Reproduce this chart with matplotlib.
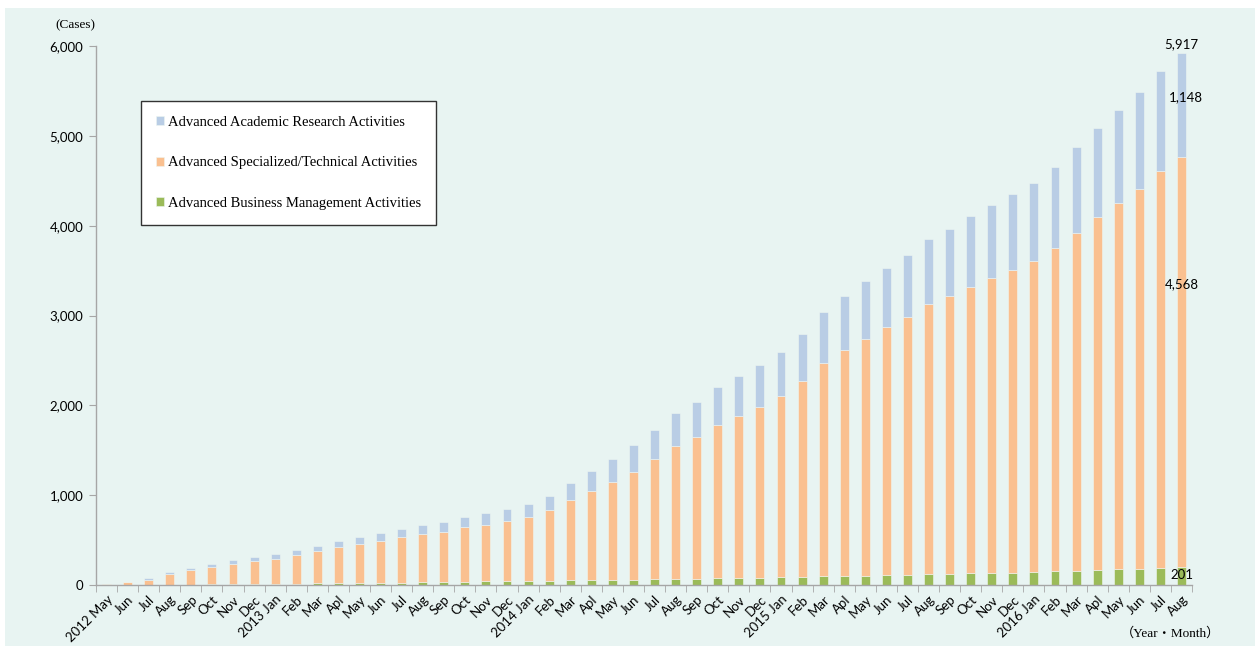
import matplotlib

matplotlib.use("Agg")
import matplotlib.pyplot as plt
from matplotlib.patches import Rectangle
from matplotlib.ticker import FuncFormatter, MultipleLocator
import numpy as np

BG = "#e8f4f2"
BLUE = "#b9cde5"
ORANGE = "#fac090"
GREEN = "#9bbb59"
AXIS = "#a6a6a6"

MONTHS = [
    "2012 May", "Jun", "Jul", "Aug", "Sep", "Oct", "Nov", "Dec",
    "2013 Jan", "Feb", "Mar", "Apl", "May", "Jun", "Jul", "Aug", "Sep", "Oct", "Nov", "Dec",
    "2014 Jan", "Feb", "Mar", "Apl", "May", "Jun", "Jul", "Aug", "Sep", "Oct", "Nov", "Dec",
    "2015 Jan", "Feb", "Mar", "Apl", "May", "Jun", "Jul", "Aug", "Sep", "Oct", "Nov", "Dec",
    "2016 Jan", "Feb", "Mar", "Apl", "May", "Jun", "Jul", "Aug",
]

# Advanced Business Management Activities
business = [
    0, 1, 2, 3, 4, 6, 8, 9,
    11, 13, 17, 21, 22, 24, 26, 31, 35, 37, 39, 45,
    47, 49, 54, 58, 60, 61, 64, 68, 71, 76, 79, 81,
    84, 90, 95, 100, 103, 109, 114, 120, 123, 129, 133, 137,
    145, 154, 158, 166, 174, 180, 189, 201,
]
# Advanced Specialized/Technical Activities
specialized = [
    6, 29, 57, 123, 159, 194, 229, 254,
    279, 317, 358, 399, 438, 470, 505, 537, 559, 605, 629, 664,
    707, 790, 889, 993, 1087, 1201, 1339, 1480, 1577, 1706, 1803, 1905,
    2021, 2178, 2377, 2520, 2636, 2764, 2870, 3009, 3095, 3189, 3285, 3371,
    3463, 3599, 3762, 3932, 4080, 4230, 4421, 4568,
]
# Advanced Academic Research Activities
academic = [
    2, 3, 19, 19, 23, 34, 41, 49,
    52, 56, 59, 70, 75, 85, 89, 97, 108, 115, 130, 137,
    148, 156, 189, 222, 256, 294, 323, 364, 390, 426, 441, 467,
    490, 531, 563, 598, 646, 657, 691, 724, 746, 791, 814, 846,
    869, 902, 958, 991, 1036, 1080, 1114, 1148,
]

LABEL_FONT = ["Lato", "DejaVu Sans"]
SERIF = ["Liberation Serif", "Noto Sans CJK JP"]


def main():
    fig = plt.figure(figsize=(12.55, 6.46), dpi=100)
    fig.patch.set_facecolor("white")
    fig.patches.append(Rectangle((5 / 1255, 0), 1, (646 - 8) / 646,
                                 transform=fig.transFigure, facecolor=BG,
                                 edgecolor="none", zorder=-10))

    ax = fig.add_axes([96 / 1255, 61 / 646, 1096 / 1255, 539 / 646])
    ax.set_facecolor(BG)
    ax.patch.set_alpha(0)

    x = np.arange(len(MONTHS))
    b = np.array(business)
    s = np.array(specialized)
    a = np.array(academic)
    w = 0.42
    ax.bar(x, b, w, color=GREEN, edgecolor="#eef6f2", linewidth=0.4,
           label="Advanced Business Management Activities")
    ax.bar(x, s, w, bottom=b, color=ORANGE, edgecolor="#eef6f2", linewidth=0.4,
           label="Advanced Specialized/Technical Activities")
    ax.bar(x, a, w, bottom=b + s, color=BLUE, edgecolor="#eef6f2", linewidth=0.4,
           label="Advanced Academic Research Activities")

    ax.set_xlim(-0.5, len(MONTHS) - 0.5)
    ax.set_ylim(0, 6000)
    for side in ("top", "right"):
        ax.spines[side].set_visible(False)
    for side in ("left", "bottom"):
        ax.spines[side].set_color(AXIS)
        ax.spines[side].set_linewidth(1.0)

    ax.yaxis.set_major_locator(MultipleLocator(1000))
    ax.yaxis.set_major_formatter(FuncFormatter(lambda v, p: f"{int(v):,}"))
    ax.tick_params(axis="y", direction="out", length=5, color=AXIS,
                   labelsize=9.5, pad=4)
    for lab in ax.get_yticklabels():
        lab.set_family(LABEL_FONT)

    ax.set_xticks(x)
    ax.set_xticklabels(MONTHS, rotation=45, ha="right", rotation_mode="anchor",
                       fontsize=9.5, family=LABEL_FONT)
    ax.set_xticks(np.arange(len(MONTHS) + 1) - 0.5, minor=True)
    ax.tick_params(axis="x", which="major", length=0, pad=6)
    ax.tick_params(axis="x", which="minor", direction="out", length=5, color=AXIS)

    # data labels on the last bar
    last = len(MONTHS) - 1
    total = b[last] + s[last] + a[last]
    ax.text(last, total + 40, f"{total:,}", ha="center", va="bottom",
            fontsize=9.5, family=LABEL_FONT)
    ax.text(last + 0.2, b[last] + s[last] + a[last] * 0.58, f"{a[last]:,}",
            ha="center", va="center", fontsize=9.5, family=LABEL_FONT)
    ax.text(last, b[last] + s[last] * 0.69, f"{s[last]:,}", ha="center",
            va="center", fontsize=9.5, family=LABEL_FONT)
    ax.text(last, b[last] * 0.55, f"{b[last]:,}", ha="center", va="center",
            fontsize=9.5, family=LABEL_FONT)

    fig.text(55 / 1255, 1 - 25 / 646, "(Cases)", fontsize=9.5, family=SERIF,
             va="center", ha="left")
    fig.text(1220 / 1255, 1 - 633 / 646, "（Year・Month）", fontsize=9.5,
             family=SERIF, va="center", ha="right")

    handles, labels = ax.get_legend_handles_labels()
    leg = ax.legend(handles[::-1], labels[::-1], loc="upper left",
                    bbox_to_anchor=(141 / 1255, 1 - 101 / 646),
                    bbox_transform=fig.transFigure, frameon=True, fancybox=False,
                    edgecolor="#333333", facecolor="white", framealpha=1,
                    prop={"family": SERIF, "size": 10.5}, handlelength=0.6,
                    handleheight=0.6, handletextpad=0.25, labelspacing=1.9,
                    borderpad=1.0, borderaxespad=0)
    leg.get_frame().set_linewidth(1.0)

    fig.savefig("out.png", dpi=100)
    plt.close(fig)


if __name__ == "__main__":
    main()
